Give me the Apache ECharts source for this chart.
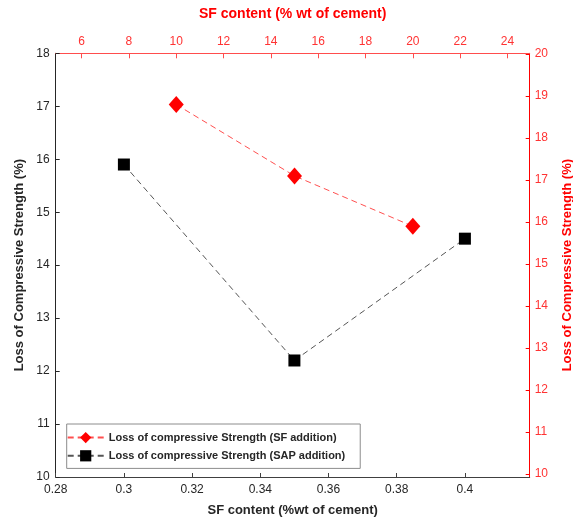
<!DOCTYPE html>
<html>
<head>
<meta charset="utf-8">
<script src="https://cdn.jsdelivr.net/npm/echarts@6/dist/echarts.min.js"></script>
<style>
html,body{margin:0;padding:0;background:#fff;}
#chart{width:573px;height:520px;}
</style>
</head>
<body>
<div id="chart"></div>
<script>
// Data
const sapContent = [0.3, 0.35, 0.4];          // bottom axis (SAP content)
const sapLoss = [15.9, 12.2, 14.5];           // left axis
const sfContent = [10, 15, 20];               // top axis (% wt of cement)
const sfLoss = [18.8, 17.1, 15.9];            // right axis
const seriesNames = ['Loss of compressive Strength (SF addition)', 'Loss of compressive Strength (SAP addition)'];
const axisTitles = {
  bottom: 'SF content (%wt of cement)',
  top: 'SF content (% wt of cement)',
  left: 'Loss of Compressive Strength (%)',
  right: 'Loss of Compressive Strength (%)'
};

const FONT = 'Liberation Sans, Arial, sans-serif';
const DARK = '#262626';
const RED = '#ff0000';
const RED_LINE = '#ff4d4d';

const chart = echarts.init(document.getElementById('chart'), null, {renderer: 'canvas'});
chart.setOption({
  animation: false,
  backgroundColor: '#fff',
  grid: {left: 55.7, right: 43.3, top: 53.3, bottom: 43, containLabel: false, outerBoundsMode: 'none'},
  legend: {
    orient: 'vertical',
    left: 66.7, top: 424,
    padding: [8, 15, 7, 0],
    itemGap: 7,
    itemWidth: 36,
    itemHeight: 14,
    borderColor: '#8c8c8c',
    borderWidth: 1,
    textStyle: {fontFamily: FONT, fontSize: 11, fontWeight: 'bold', color: DARK},
    data: seriesNames
  },
  xAxis: [
    {
      type: 'value', position: 'bottom',
      min: 0.28, max: 0.419, interval: 0.02,
      name: axisTitles.bottom, nameLocation: 'middle', nameGap: 27,
      nameTextStyle: {fontFamily: FONT, fontSize: 13, fontWeight: 'bold', color: DARK},
      axisLine: {show: true, lineStyle: {color: '#404040', width: 1}},
      axisTick: {show: true, inside: true, length: 4, lineStyle: {color: '#404040'}},
      axisLabel: {fontFamily: FONT, fontSize: 12, color: DARK, margin: 7, showMaxLabel: false},
      splitLine: {show: false}
    },
    {
      type: 'value', position: 'top',
      min: 4.905, max: 24.94, splitNumber: 10,
      name: axisTitles.top, nameLocation: 'middle', nameGap: 32,
      nameTextStyle: {fontFamily: FONT, fontSize: 14, fontWeight: 'bold', color: RED},
      axisLine: {show: true, lineStyle: {color: RED_LINE, width: 1}},
      axisTick: {show: true, inside: true, length: 5, lineStyle: {color: RED_LINE}},
      axisLabel: {fontFamily: FONT, fontSize: 12, color: '#ff3333', margin: 6, showMinLabel: false, showMaxLabel: false},
      splitLine: {show: false}
    }
  ],
  yAxis: [
    {
      type: 'value', position: 'left',
      min: 10, max: 18, interval: 1,
      name: axisTitles.left, nameLocation: 'middle', nameGap: 27, nameRotate: 90,
      nameTextStyle: {fontFamily: FONT, fontSize: 13, fontWeight: 'bold', color: DARK},
      axisLine: {show: true, lineStyle: {color: DARK, width: 1}},
      axisTick: {show: true, inside: true, length: 4, lineStyle: {color: DARK}},
      axisLabel: {fontFamily: FONT, fontSize: 12, color: DARK, margin: 6},
      splitLine: {show: false}
    },
    {
      type: 'value', position: 'right',
      min: 9.93, max: 20.02, splitNumber: 10,
      name: axisTitles.right, nameLocation: 'middle', nameGap: 31, nameRotate: 90,
      nameTextStyle: {fontFamily: FONT, fontSize: 13, fontWeight: 'bold', color: RED},
      axisLine: {show: true, lineStyle: {color: RED, width: 1}},
      axisTick: {show: true, inside: true, length: 4, lineStyle: {color: RED}},
      axisLabel: {fontFamily: FONT, fontSize: 12, color: '#ff3333', margin: 5, showMinLabel: false, showMaxLabel: false},
      splitLine: {show: false}
    }
  ],
  series: [
    {
      name: seriesNames[0], type: 'line',
      xAxisIndex: 1, yAxisIndex: 1,
      data: sfContent.map((x, i) => [x, sfLoss[i]]),
      symbol: 'diamond', symbolSize: [15, 17],
      itemStyle: {color: RED},
      lineStyle: {color: '#ff5050', width: 1, type: [6, 4]},
      z: 3
    },
    {
      name: seriesNames[1], type: 'line',
      xAxisIndex: 0, yAxisIndex: 0,
      data: sapContent.map((x, i) => [x, sapLoss[i]]),
      symbol: 'rect', symbolSize: [12, 12],
      itemStyle: {color: '#000'},
      lineStyle: {color: '#555', width: 1, type: [6, 4]},
      z: 3
    }
  ]
});
</script>
</body>
</html>
